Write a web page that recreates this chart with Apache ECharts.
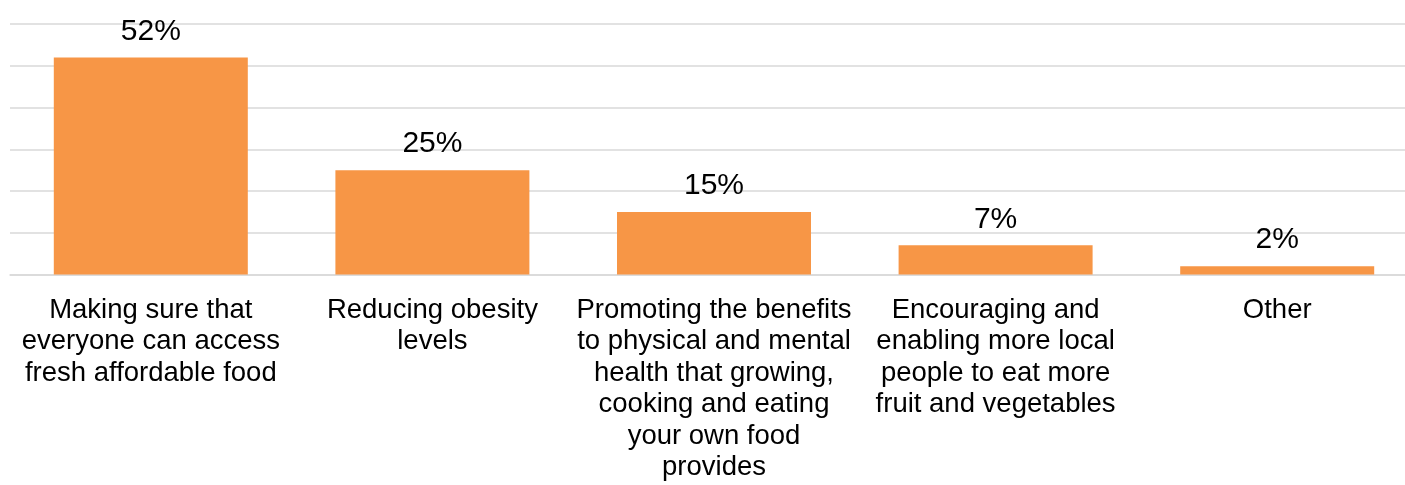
<!DOCTYPE html>
<html>
<head>
<meta charset="utf-8">
<script src="https://cdn.jsdelivr.net/npm/echarts@6/dist/echarts.min.js"></script>
<style>
html,body{margin:0;padding:0;background:#fff;overflow:hidden;}
#chart{width:1405px;height:485px;}
</style>
</head>
<body>
<div id="chart"></div>
<script>
const categories = [
  "Making sure that\neveryone can access\nfresh affordable food",
  "Reducing obesity\nlevels",
  "Promoting the benefits\nto physical and mental\nhealth that growing,\ncooking and eating\nyour own food\nprovides",
  "Encouraging and\nenabling more local\npeople to eat more\nfruit and vegetables",
  "Other"
];
const values = [52, 25, 15, 7, 2];

const chart = echarts.init(document.getElementById('chart'), null, {renderer: 'canvas'});
chart.setOption({
  animation: false,
  backgroundColor: '#ffffff',
  textStyle: {fontFamily: 'Liberation Sans, Arial, sans-serif'},
  grid: {left: 10, width: 1408, top: 24, bottom: 210.5, containLabel: false, outerBoundsMode: 'none'},
  xAxis: {
    type: 'category',
    data: categories,
    axisTick: {show: false},
    axisLine: {show: true, lineStyle: {color: '#D9D9D9', width: 1.5}},
    axisLabel: {
      interval: 0,
      color: '#000000',
      fontSize: 27.5,
      lineHeight: 31.5,
      margin: 20,
      fontFamily: 'Liberation Sans, Arial, sans-serif'
    }
  },
  yAxis: {
    type: 'value',
    min: 0, max: 60, interval: 10,
    axisLabel: {show: false},
    axisLine: {show: false},
    axisTick: {show: false},
    splitLine: {show: true, lineStyle: {color: '#D9D9D9', width: 1.5}}
  },
  series: [{
    type: 'bar',
    data: values,
    barWidth: 194,
    itemStyle: {color: '#F79646'},
    label: {
      show: true,
      position: 'top',
      distance: 11,
      formatter: '{c}%',
      color: '#000000',
      fontSize: 30,
      fontFamily: 'Liberation Sans, Arial, sans-serif'
    }
  }]
});
</script>
</body>
</html>
